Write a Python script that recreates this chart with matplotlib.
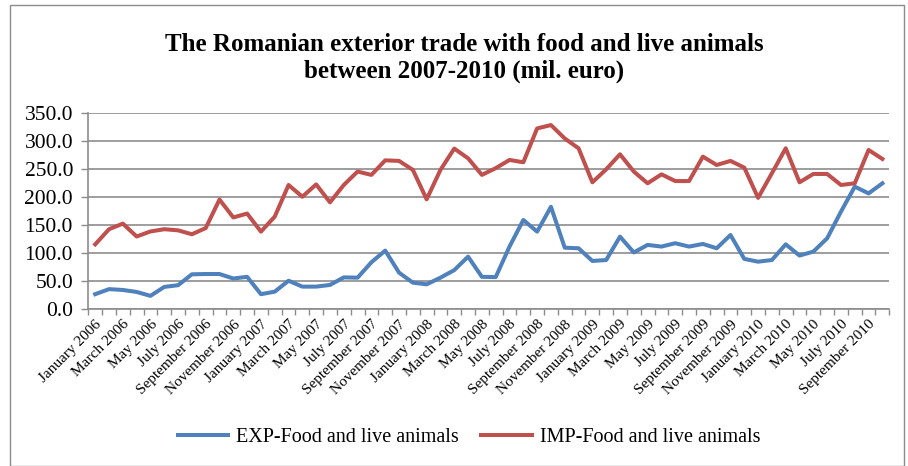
import matplotlib
matplotlib.use("Agg")
import matplotlib.pyplot as plt
from matplotlib.patches import Rectangle
from matplotlib.lines import Line2D
import numpy as np

months = ["January", "February", "March", "April", "May", "June", "July",
          "August", "September", "October", "November", "December"]
categories = [f"{m} {y}" for y in range(2006, 2011) for m in months][:58]

exp_values = [27, 36, 34.5, 31, 24, 40, 43, 62.5, 63, 63,
              55, 58, 27, 31.5, 51, 40.5, 40.5, 43.5, 57, 56.5,
              84, 104.8, 65.5, 47.6, 44.6, 56.5, 70, 94, 58, 57.5,
              112, 159.5, 138.7, 183, 110, 109, 86.3, 88, 129.8, 101.5,
              115, 112, 118, 112, 116.7, 109, 132.7, 90, 85, 88,
              116, 96, 103, 126.8, 174.4, 219, 207, 225]
imp_values = [116, 143, 153, 130, 139, 143, 141, 134, 145, 196,
              164, 171, 138.7, 165.5, 222, 201, 223, 191, 222, 246,
              240, 266, 265, 249, 196.4, 249, 287, 269.6, 240, 252,
              266.7, 262.5, 323, 329, 305, 287.5, 226.8, 250, 276.8, 246,
              225, 241, 229, 229, 272.6, 257.7, 265, 253, 199, 243,
              287.5, 226.8, 241.7, 241.7, 222, 225, 284.5, 268.5]
yticks = [0, 50, 100, 150, 200, 250, 300, 350]

title = "The Romanian exterior trade with food and live animals\nbetween 2007-2010 (mil. euro)"
series_labels = ["EXP-Food and live animals", "IMP-Food and live animals"]

BLUE = "#4F81BD"
RED = "#C0504D"
GRID = "#8C8C8C"
SERIF = ["Liberation Serif", "DejaVu Serif"]

plt.rcParams["font.family"] = SERIF

fig = plt.figure(figsize=(9.08, 4.66), dpi=100)
W, H = 908, 466
ax = fig.add_axes([88.3 / W, 1 - 309.3 / H, (889.3 - 88.3) / W, (309.3 - 113.3) / H])

x = np.arange(len(categories))
ax.plot(x, exp_values, color=BLUE, lw=2.9, solid_joinstyle="round", zorder=3)
ax.plot(x, imp_values, color=RED, lw=2.9, solid_joinstyle="round", zorder=3)

ax.set_xlim(-0.5, len(categories) - 0.5)
ax.set_ylim(0, 350)
ax.set_yticks(yticks)
ax.set_yticklabels([f"{v:.1f}" for v in yticks], fontsize=15.5)
ax.yaxis.grid(True, color=GRID, lw=1.2, zorder=0)
ax.set_axisbelow(True)

ax.set_xticks(x[::2])
ax.set_xticklabels(categories[::2], rotation=45, ha="right",
                   rotation_mode="anchor", fontsize=11)
ax.tick_params(axis="x", which="major", length=0, pad=6)
ax.set_xticks(np.arange(-0.5, len(categories) + 0.5, 1), minor=True)
ax.tick_params(axis="x", which="minor", length=4, width=1, color=GRID, direction="out")
ax.tick_params(axis="y", length=5, width=1, color=GRID, direction="out", pad=6)

for s in ["top", "right"]:
    ax.spines[s].set_visible(False)
for s in ["left", "bottom"]:
    ax.spines[s].set_color(GRID)
    ax.spines[s].set_linewidth(1.2)

fig.text(464 / W, 1 - 58 / H, title, ha="center", va="center",
         fontsize=18, fontweight="bold", linespacing=1.2)

# legend
handles = [Line2D([], [], color=BLUE, lw=2.9), Line2D([], [], color=RED, lw=2.9)]
fig.legend(handles, series_labels, loc="center", bbox_to_anchor=(469 / W, 1 - 437 / H),
           ncol=2, frameon=False, fontsize=14.5, handlelength=2.5,
           columnspacing=1.1, handletextpad=0.4)

# outer border
fig.add_artist(Rectangle((10 / W, 0.0), (904 - 10) / W, (H - 5) / H,
                         transform=fig.transFigure, fill=False,
                         edgecolor="#8C8C8C", lw=1.0))

fig.savefig("out.png", dpi=100)
